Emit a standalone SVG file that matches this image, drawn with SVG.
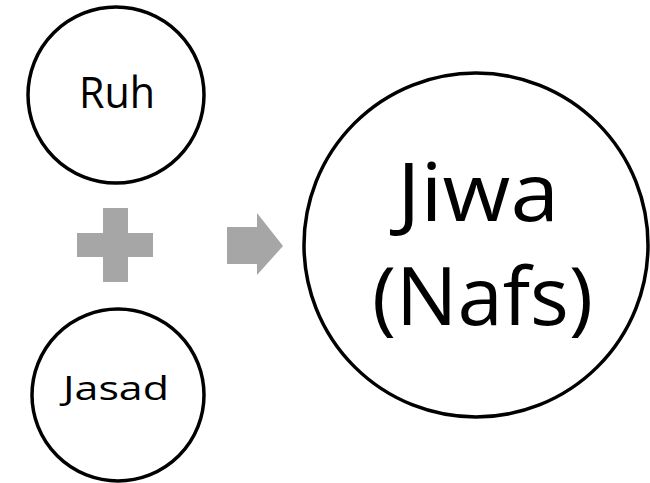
<svg xmlns="http://www.w3.org/2000/svg" width="650" height="483" viewBox="0 0 650 483">
<style>
.node{fill:#ffffff;stroke:#000000;stroke-width:3.5}
.lbl{font-family:"Open Sans","Liberation Sans",sans-serif;fill:#000000}
.sym{fill:#a6a6a6}
</style>
<rect width="650" height="483" fill="#ffffff"/>
<g id="connectors">
<polygon class="sym" points="103,208 128,208 128,233 153,233 153,257 128,257 128,282 103,282 103,257 77,257 77,233 103,233"/>
<polygon class="sym" points="227,227 257,227 257,213 283,246 257,275 257,264 227,264"/>
</g>
<g id="ruh">
<circle class="node" cx="116" cy="95" r="88"/>
<text class="lbl" x="79" y="108" font-size="43" textLength="76" lengthAdjust="spacingAndGlyphs">Ruh</text>
</g>
<g id="jasad">
<circle class="node" cx="118" cy="395" r="86"/>
<text class="lbl" x="63" y="400" font-size="33" textLength="106" lengthAdjust="spacingAndGlyphs">Jasad</text>
</g>
<g id="jiwa">
<circle class="node" cx="476" cy="245" r="172"/>
<text class="lbl" x="397" y="221" font-size="80" textLength="162" lengthAdjust="spacingAndGlyphs">Jiwa</text>
<text class="lbl" x="372" y="325" font-size="80" textLength="221" lengthAdjust="spacingAndGlyphs">(Nafs)</text>
</g>
</svg>
